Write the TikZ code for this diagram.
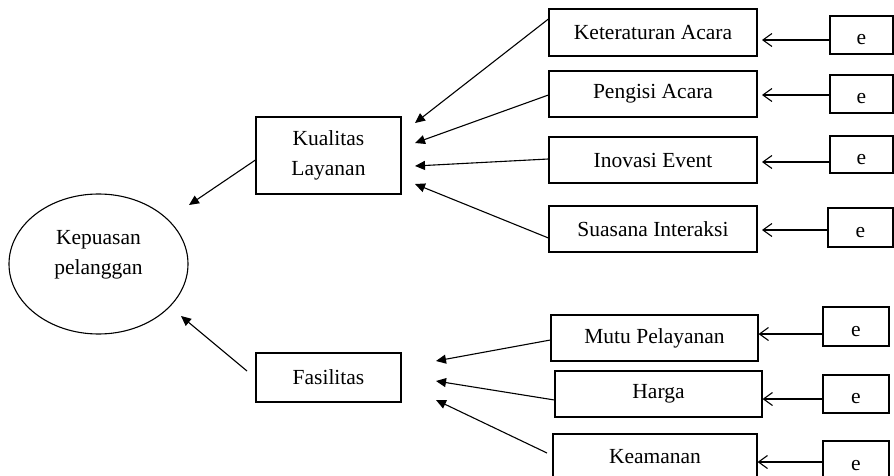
\documentclass[tikz,border=0pt]{standalone}
\usepackage{fontspec}
\setmainfont{Liberation Serif}
\usetikzlibrary{arrows.meta,shapes.geometric}
\begin{document}
\begin{tikzpicture}[x=1pt,y=-1pt,
  every node/.style={font=\fontsize{21.5}{30.5}\selectfont},
  box/.style={draw,line width=1.1pt,inner sep=0pt,align=center},
  ind/.style={box,minimum width=207pt,minimum height=46pt},
  ebox/.style={box,minimum width=64pt,minimum height=38pt,text height=20pt,text depth=0.3pt},
  main/.style={line width=1.1pt,-{Triangle[length=10pt,width=9pt]}},
  earrow/.style={line width=1.1pt,-{Straight Barb[length=9pt,width=13pt,line width=1.1pt]}}]
\useasboundingbox (0,0) rectangle (894,476);
\clip (0,0) rectangle (894,476);
% latent
\node[draw,ellipse,line width=1.1pt,minimum width=179pt,minimum height=140pt,inner sep=0pt] (kp) at (98.5,264) {};
\node[align=center] (kptext) at (98.5,255) {Kepuasan\\pelanggan};
% constructs
\node[box,minimum width=145pt,minimum height=77pt] (kl) at (328.5,155.5) {Kualitas\\Layanan};
\node[box,minimum width=145pt,minimum height=49pt] (fas) at (328.5,377.5) {Fasilitas};
% indicators
\node[ind,minimum width=208pt,minimum height=47pt] (ket) at (653,32.5) {Keteraturan Acara};
\node[ind,minimum width=208pt] (pen) at (653,94) {Pengisi Acara};
\node[ind,minimum width=208pt] (ino) at (653,160) {Inovasi Event};
\node[ind,minimum width=208pt] (sua) at (653,229) {Suasana Interaksi};
\node[ind] (mut) at (654.5,338) {Mutu Pelayanan};
\node[ind] (har) at (658.5,394) {Harga};
\node[ind,minimum width=204pt] (kea) at (655,457) {Keamanan};
% errors
\node[ebox,minimum width=63pt] (e1) at (861.5,35) {e};
\node[ebox,minimum width=63pt] (e2) at (861.5,94) {e};
\node[ebox,minimum width=63pt,minimum height=37pt] (e3) at (861.5,154.5) {e};
\node[ebox,minimum width=65pt,minimum height=39pt] (e4) at (860.5,227.5) {e};
\node[ebox,minimum width=66pt,minimum height=39pt] (e5) at (856,326.5) {e};
\node[ebox,minimum width=66pt] (e6) at (856,394) {e};
\node[ebox,minimum width=66pt,minimum height=40pt] (e7) at (856,461) {e};
% arrow end points
\coordinate (klA) at (415,123);
\coordinate (klB) at (415,143);
\coordinate (klC) at (415,166);
\coordinate (klD) at (415,184);
\coordinate (faA) at (436,361);
\coordinate (faB) at (436,381);
\coordinate (faC) at (436,400);
\coordinate (kpA) at (189,205);
\coordinate (kpB) at (181,316);
% structural arrows
\draw[main] (kl.west|-0,160) -- (kpA);
\draw[main] (247,371) coordinate (fasS) -- (kpB);
% indicator arrows
\draw[main] (ket.west|-0,19) -- (klA);
\draw[main] (pen.west|-0,95) -- (klB);
\draw[main] (ino.west|-0,159) -- (klC);
\draw[main] (sua.west|-0,238) -- (klD);
\draw[main] (mut.west|-0,340) -- (faA);
\draw[main] (har.west|-0,400) -- (faB);
\draw[main] (547,453) coordinate (keaS) -- (faC);
% error arrows
\draw[earrow] (e1.west|-0,40) -- (762,40);
\draw[earrow] (e2.west|-0,95) -- (762,95);
\draw[earrow] (e3.west|-0,162) -- (762,162);
\draw[earrow] (e4.west|-0,230) -- (762,230);
\draw[earrow] (e5.west|-0,334) -- (mut.east|-0,334);
\draw[earrow] (e6.west|-0,399) -- (har.east|-0,399);
\draw[earrow] (e7.west|-0,462) -- (kea.east|-0,462);
\end{tikzpicture}
\end{document}
